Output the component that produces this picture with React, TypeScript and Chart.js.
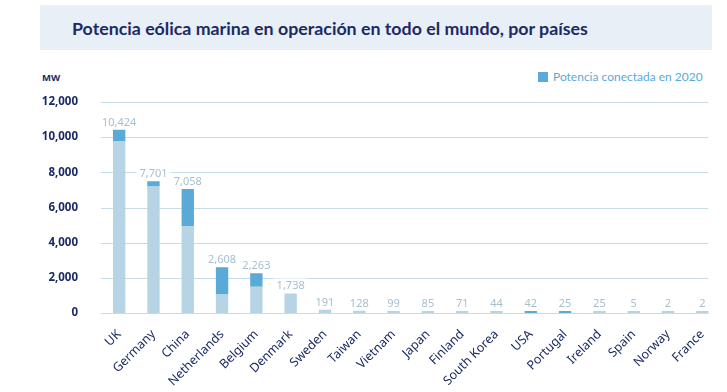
import React, { useEffect, useRef } from "react";
import { Chart, registerables } from "chart.js";

Chart.register(...registerables);

const categories = [
  "UK", "Germany", "China", "Netherlands", "Belgium", "Denmark", "Sweden", "Taiwan", "Vietnam",
  "Japan", "Finland", "South Korea", "USA", "Portugal", "Ireland", "Spain", "Norway", "France",
];
const installedBefore2020 = [9750, 7200, 4950, 1050, 1500, 1110, 191, 128, 99, 85, 71, 44, null, null, 25, 5, 2, 2];
const connected2020 = [674, 300, 2108, 1558, 763, null, null, null, null, null, null, null, 42, 25, null, null, null, null];
const totalLabels = [10424, 7701, 7058, 2608, 2263, 1738, 191, 128, 99, 85, 71, 44, 42, 25, 25, 5, 2, 2];
const yTicks = [0, 2000, 4000, 6000, 8000, 10000, 12000];

const TITLE = "Potencia eólica marina en operación en todo el mundo, por países";
const LEGEND_LABEL = "Potencia conectada en 2020";
const UNIT = "MW";

const NAVY = "#1c2a64";
const LIGHT = "#b7d4e4";
const DARK = "#5aaad7";
const GRID = "#c6dce8";
const VALUE = "#a6c0d2";

const fmt = (v: number) => v.toLocaleString("en-US");

const gridPlugin = {
  id: "customGrid",
  beforeDatasetsDraw(chart: any) {
    const { ctx, chartArea, scales } = chart;
    const y = scales.y;
    ctx.save();
    ctx.strokeStyle = GRID;
    ctx.lineWidth = 1;
    yTicks.forEach((t) => {
      const py = Math.round(y.getPixelForValue(t)) + 0.5;
      ctx.beginPath();
      ctx.moveTo(chartArea.left - 1, py);
      ctx.lineTo(chartArea.right - 11, py);
      ctx.stroke();
    });
    ctx.restore();
  },
};

const valueLabelPlugin = {
  id: "valueLabels",
  afterDatasetsDraw(chart: any) {
    const { ctx } = chart;
    ctx.save();
    ctx.font = "11px 'Noto Sans'";
    ctx.textAlign = "center";
    ctx.textBaseline = "alphabetic";
    categories.forEach((_, i) => {
      let top = Infinity;
      let x = 0;
      chart.data.datasets.forEach((ds: any, di: number) => {
        if (ds.data[i] == null) return;
        const el = chart.getDatasetMeta(di).data[i];
        if (!el) return;
        x = el.x;
        top = Math.min(top, el.y);
      });
      if (!isFinite(top)) return;
      const text = fmt(totalLabels[i]);
      const w = ctx.measureText(text).width;
      const baseY = top - 4;
      ctx.fillStyle = "#ffffff";
      ctx.fillRect(x - w / 2 - 3, baseY - 11, w + 6, 14);
      ctx.fillStyle = VALUE;
      ctx.fillText(text, x, baseY);
    });
    ctx.restore();
  },
};

export default function App() {
  const ref = useRef<HTMLCanvasElement | null>(null);

  useEffect(() => {
    if (!ref.current) return;
    const chart = new Chart(ref.current, {
      type: "bar",
      data: {
        labels: categories,
        datasets: [
          {
            label: "Potencia antes de 2020",
            data: installedBefore2020 as any,
            backgroundColor: LIGHT,
            minBarLength: 2,
            barPercentage: 0.36,
            categoryPercentage: 1,
          },
          {
            label: LEGEND_LABEL,
            data: connected2020 as any,
            backgroundColor: DARK,
            minBarLength: 2,
            barPercentage: 0.36,
            categoryPercentage: 1,
          },
        ],
      },
      options: {
        responsive: false,
        animation: false,
        devicePixelRatio: 1,
        layout: { padding: { left: 0, right: 3, top: 102, bottom: 0 } },
        plugins: {
          legend: { display: false },
          tooltip: { enabled: false },
          title: { display: false },
        },
        scales: {
          x: {
            stacked: true,
            grid: { display: false, drawTicks: false },
            border: { display: false },
            afterFit: (s: any) => { s.height = 79; },
            ticks: {
              autoSkip: false,
              maxRotation: 45,
              minRotation: 45,
              padding: 14,
              color: NAVY,
              font: { family: "'Noto Sans'", size: 12.5 },
            },
          },
          y: {
            stacked: true,
            min: 0,
            max: 12000,
            grid: { display: false, drawTicks: false },
            border: { display: false },
            afterFit: (s: any) => { s.width = 102; },
            afterBuildTicks: (s: any) => { s.ticks = yTicks.map((v) => ({ value: v })); },
            ticks: {
              padding: 24,
              color: NAVY,
              font: { family: "'Noto Sans'", size: 11.5, weight: "bold" },
              callback: (v: any) => fmt(Number(v)),
            },
          },
        },
      },
      plugins: [gridPlugin, valueLabelPlugin],
    });
    return () => chart.destroy();
  }, []);

  return (
    <div style={{ position: "fixed", left: 0, top: 0, width: 727, height: 392, background: "#fff", overflow: "hidden" }}>
      <div
        style={{
          position: "absolute", left: 40, top: 5, width: 672, height: 45, background: "#e8eff6",
          display: "flex", alignItems: "center", boxSizing: "border-box", paddingLeft: 32,
          fontFamily: "Lato, 'Noto Sans', sans-serif", fontWeight: 700, fontSize: 17.8, color: NAVY,
        }}
      >
        {TITLE}
      </div>
      <div style={{ position: "absolute", left: 42, top: 71, fontFamily: "'Noto Sans', sans-serif", fontWeight: 700, fontSize: 9.5, color: NAVY }}>
        {UNIT}
      </div>
      <div style={{ position: "absolute", left: 538, top: 72, width: 10, height: 10, background: DARK }} />
      <div style={{ position: "absolute", left: 553, top: 68, fontFamily: "Lato, 'Noto Sans', sans-serif", fontSize: 12, color: DARK, lineHeight: "17px" }}>
        {LEGEND_LABEL}
      </div>
      <canvas ref={ref} width={727} height={392} style={{ position: "absolute", left: 0, top: 0 }} />
    </div>
  );
}
